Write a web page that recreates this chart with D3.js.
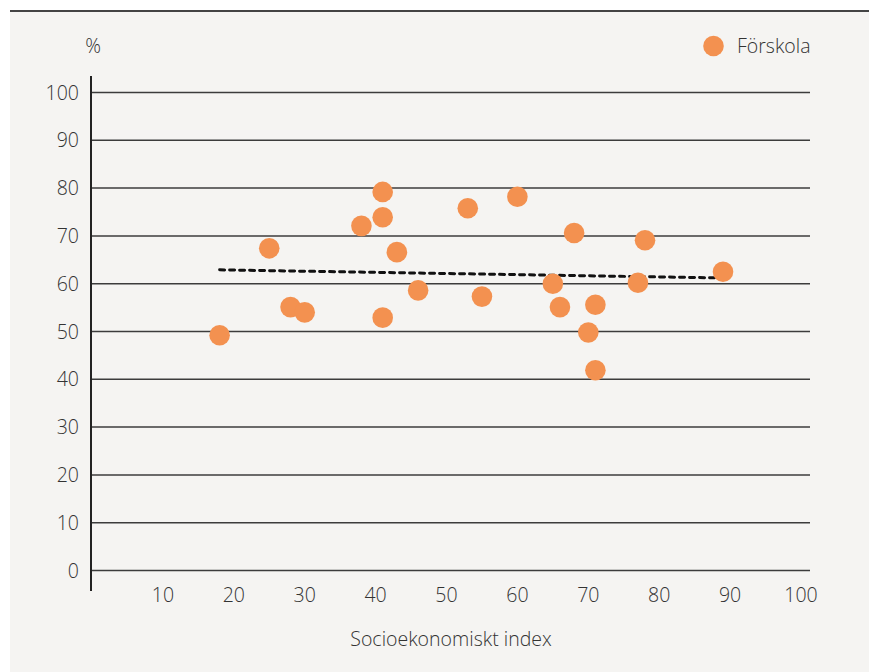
<!DOCTYPE html>
<meta charset="utf-8">
<style>
    body { margin: 0; background: #fff; }
    svg text { font-family: "Open Sans", Lato, sans-serif; font-weight: 300; fill: #333; }
    .grid line { stroke: #3c3c3c; stroke-width: 1.5px; }
</style>
<svg width="869" height="672"></svg>
<script src="https://cdn.jsdelivr.net/npm/d3@7"></script>
<script>

    // data
    var socioIndex = [18, 25, 28, 30, 38, 41, 41, 41, 43, 46, 53, 55, 60, 65, 66, 68, 70, 71, 71, 77, 78, 89];
    var forskola   = [49.2, 67.4, 55.1, 54.0, 72.1, 79.2, 73.9, 52.9, 66.6, 58.6, 75.8, 57.3, 78.2, 60.0, 55.1, 70.6, 49.8, 55.6, 41.9, 60.2, 69.1, 62.5];
    var trendX = [18, 89];
    var trendY = [62.9, 61.2];
    var xTicks = [10, 20, 30, 40, 50, 60, 70, 80, 90, 100];
    var yTicks = [0, 10, 20, 30, 40, 50, 60, 70, 80, 90, 100];
    var seriesName = "Förskola";

    var svg = d3.select("svg");

    var x = d3.scaleLinear().domain([0, 100]).range([92, 801]);
    var y = d3.scaleLinear().domain([0, 100]).range([570.5, 92.5]);

    // panel
    svg.append("rect").attr("x", 10).attr("y", 10).attr("width", 859).attr("height", 662).attr("fill", "#f5f4f2");
    svg.append("line").attr("x1", 10).attr("x2", 869).attr("y1", 11).attr("y2", 11)
        .attr("stroke", "#444").attr("stroke-width", 2);

    // horizontal grid
    svg.append("g").attr("class", "grid")
        .selectAll("line").data(yTicks).enter().append("line")
        .attr("x1", x(0)).attr("x2", 810)
        .attr("y1", function(d) { return y(d); })
        .attr("y2", function(d) { return y(d); })
        .attr("stroke-width", function(d) { return d === 0 ? 2 : 1.5; });

    // y axis
    svg.append("line").attr("x1", 91).attr("x2", 91).attr("y1", 76).attr("y2", 591)
        .attr("stroke", "#222").attr("stroke-width", 2);

    svg.append("g").selectAll("text").data(yTicks).enter().append("text")
        .attr("x", 79).attr("y", function(d) { return y(d); })
        .attr("dy", "0.36em").attr("text-anchor", "end")
        .attr("font-size", 19.5)
        .text(function(d) { return d; });

    svg.append("text").attr("x", 93).attr("y", 53).attr("text-anchor", "middle")
        .attr("font-size", 19.5).text("%");

    svg.append("g").selectAll("text").data(xTicks).enter().append("text")
        .attr("x", function(d) { return x(d); }).attr("y", 602)
        .attr("text-anchor", "middle").attr("font-size", 19.5)
        .text(function(d) { return d; });

    svg.append("text").attr("x", 451).attr("y", 646).attr("text-anchor", "middle")
        .attr("font-size", 19.5).text("Socioekonomiskt index");

    // trend line
    var line = d3.line()
        .x(function(d) { return x(d); })
        .y(function(d, i) { return y(trendY[i]); });
    svg.append("path").datum(trendX).attr("d", line)
        .attr("fill", "none").attr("stroke", "#111").attr("stroke-width", 3)
        .attr("stroke-dasharray", "5,5").attr("stroke-linecap", "round");

    // points
    svg.append("g").selectAll("circle").data(socioIndex).enter().append("circle")
        .attr("cx", function(d) { return x(d); })
        .attr("cy", function(d, i) { return y(forskola[i]); })
        .attr("r", 10.3)
        .attr("fill", "#f39150");

    // legend
    svg.append("circle").attr("cx", 713.5).attr("cy", 46).attr("r", 10.3).attr("fill", "#f39150");
    svg.append("text").attr("x", 737).attr("y", 46).attr("dy", "0.36em")
        .attr("font-size", 19.5).text(seriesName);

</script>
